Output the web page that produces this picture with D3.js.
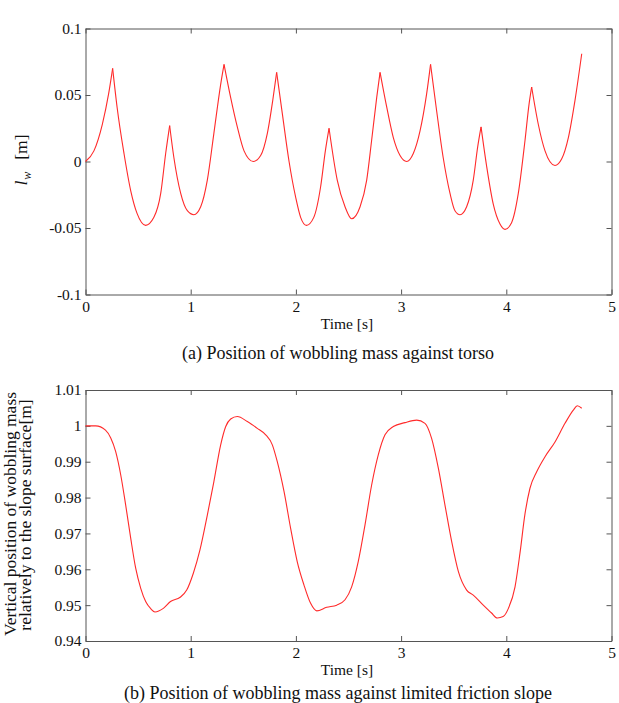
<!DOCTYPE html>
<html>
<head>
<meta charset="utf-8">
<script src="https://cdn.jsdelivr.net/npm/d3@7"></script>
<style>
  body { margin: 0; background: #fff; }
  svg { display: block; }
  .axis path, .axis line { stroke: #555; }
  .axis text { fill: #111; }
</style>
</head>
<body>
<script>
'use strict';

// (a) position of wobbling mass against torso
var topTime = [0, 0.08, 0.16, 0.22, 0.258, 0.30, 0.366, 0.43, 0.49, 0.572,
    0.65, 0.715, 0.762, 0.80, 0.84, 0.905, 0.968, 1.03, 1.095, 1.158,
    1.22, 1.285, 1.317, 1.38, 1.443, 1.507, 1.595, 1.665, 1.728, 1.78,
    1.817, 1.871, 1.935, 1.998, 2.045, 2.10, 2.17, 2.235, 2.28, 2.315,
    2.393, 2.467, 2.53, 2.61, 2.673, 2.72, 2.768, 2.80, 2.863, 2.926,
    2.99, 3.053, 3.116, 3.18, 3.243, 3.28, 3.338, 3.40, 3.465, 3.512,
    3.56, 3.623, 3.686, 3.728, 3.76, 3.814, 3.876, 3.94, 3.988, 4.05,
    4.114, 4.178, 4.216, 4.241, 4.304, 4.368, 4.463, 4.527, 4.59, 4.653,
    4.717];
var topPos = [0, 0.008, 0.028, 0.051, 0.070, 0.041, 0.006, -0.022, -0.039, -0.048,
    -0.042, -0.024, 0.006, 0.027, 0.003, -0.024, -0.037, -0.040, -0.034, -0.014,
    0.021, 0.058, 0.073, 0.048, 0.026, 0.008, 0.0, 0.0045, 0.021, 0.046,
    0.067, 0.036, 0.0, -0.027, -0.042, -0.048, -0.042, -0.019, 0.008, 0.025,
    -0.014, -0.034, -0.043, -0.034, -0.014, 0.016, 0.048, 0.067, 0.041, 0.018,
    0.0045, 0.0, 0.006, 0.023, 0.051, 0.073, 0.038, 0.003, -0.024, -0.037,
    -0.040, -0.034, -0.014, 0.011, 0.026, -0.004, -0.032, -0.047, -0.051, -0.046,
    -0.024, 0.016, 0.043, 0.056, 0.028, 0.008, -0.003, 0.002, 0.018, 0.046,
    0.081];

// (b) vertical position relative to the slope surface
var bottomTime = [0, 0.097, 0.19, 0.24, 0.287, 0.335, 0.382, 0.43, 0.477, 0.525,
    0.572, 0.62, 0.66, 0.74, 0.808, 0.90, 0.962, 1.025, 1.088, 1.158,
    1.22, 1.285, 1.333, 1.38, 1.443, 1.538, 1.633, 1.713, 1.776, 1.823,
    1.887, 1.95, 2.013, 2.077, 2.14, 2.198, 2.293, 2.388, 2.467, 2.53,
    2.593, 2.657, 2.72, 2.783, 2.847, 2.926, 3.037, 3.148, 3.227, 3.29,
    3.354, 3.417, 3.481, 3.544, 3.623, 3.686, 3.781, 3.86, 3.915, 3.97,
    4.02, 4.083, 4.13, 4.178, 4.225, 4.289, 4.368, 4.463, 4.558, 4.637,
    4.675, 4.717];
var bottomPos = [1.000, 1.000, 0.9988, 0.9966, 0.9928, 0.9863, 0.9779, 0.9686, 0.9603, 0.9547,
    0.9510, 0.9490, 0.9481, 0.9491, 0.9510, 0.9522, 0.9542, 0.9589, 0.9654, 0.9751,
    0.9844, 0.9947, 0.9998, 1.0019, 1.0026, 1.0012, 0.9993, 0.9975, 0.9947, 0.9900,
    0.9817, 0.9714, 0.9621, 0.9556, 0.9505, 0.9484, 0.9494, 0.9500, 0.9515, 0.9551,
    0.9622, 0.9724, 0.9835, 0.9919, 0.9975, 0.9998, 1.0009, 1.0016, 1.0007, 0.9965,
    0.9882, 0.9779, 0.9677, 0.9594, 0.9542, 0.9528, 0.9500, 0.9478, 0.9464, 0.9468,
    0.9491, 0.9551, 0.9645, 0.9755, 0.9826, 0.9872, 0.9914, 0.9955, 1.0007, 1.0044,
    1.0056, 1.0049];

var xTicks = [0, 1, 2, 3, 4, 5];
var topYTicks = [-0.1, -0.05, 0, 0.05, 0.1];
var topYLabels = ["-0.1", "-0.05", "0", "0.05", "0.1"];
var bottomYTicks = [0.94, 0.95, 0.96, 0.97, 0.98, 0.99, 1, 1.01];
var bottomYLabels = ["0.94", "0.95", "0.96", "0.97", "0.98", "0.99", "1", "1.01"];

var chart = {};
chart.width = 619;
chart.height = 703;
chart.left = 85.5;
chart.right = 611.5;
chart.font = "'Liberation Serif', 'Times New Roman', Times, serif";

chart.svg = d3.select("body").append("svg")
    .attr("width", chart.width)
    .attr("height", chart.height)
    .attr("font-family", chart.font);

chart.drawPanel = function(opt){
    var x = d3.scaleLinear().domain([0, 5]).range([chart.left, chart.right]);
    var y = d3.scaleLinear().domain(opt.yDomain).range([opt.bottom, opt.top]);
    var g = chart.svg.append("g");

    var axes = [];
    axes.push(g.append("g").attr("class", "axis")
        .attr("transform", "translate(0," + opt.bottom + ")")
        .call(d3.axisBottom(x).tickValues(xTicks).tickSizeInner(-5).tickSizeOuter(0).tickPadding(6)
            .tickFormat(d3.format("d"))));
    axes.push(g.append("g").attr("class", "axis")
        .attr("transform", "translate(0," + opt.top + ")")
        .call(d3.axisTop(x).tickValues(xTicks).tickSizeInner(-5).tickSizeOuter(0).tickFormat("")));
    axes.push(g.append("g").attr("class", "axis")
        .attr("transform", "translate(" + chart.left + ",0)")
        .call(d3.axisLeft(y).tickValues(opt.yTicks).tickSizeInner(-5).tickSizeOuter(0).tickPadding(4)
            .tickFormat(function(d, i){ return opt.yLabels[i]; })));
    axes.push(g.append("g").attr("class", "axis")
        .attr("transform", "translate(" + chart.right + ",0)")
        .call(d3.axisRight(y).tickValues(opt.yTicks).tickSizeInner(-5).tickSizeOuter(0).tickFormat("")));
    axes.forEach(function(a){
        a.attr("font-family", chart.font).attr("font-size", 15.5);
    });

    var pts = opt.time.map(function(t, i){ return [t, opt.pos[i]]; });
    var line = d3.line()
        .x(function(d){ return x(d[0]); })
        .y(function(d){ return y(d[1]); })
        .curve(d3.curveMonotoneX);

    // split at sharp peaks so the cusps stay pointed
    var pieces = [];
    var start = 0;
    if (opt.cusps) {
        for (var i = 1; i < pts.length - 1; i++) {
            if (pts[i][1] > pts[i - 1][1] && pts[i][1] > pts[i + 1][1]) {
                pieces.push(pts.slice(start, i + 1));
                start = i;
            }
        }
    }
    pieces.push(pts.slice(start));

    g.selectAll(".trace")
        .data(pieces)
        .enter()
            .append("path")
            .classed("trace", true)
            .attr("d", line)
            .attr("fill", "none")
            .attr("stroke", "#ff2a2a")
            .attr("stroke-width", 1.1);

    g.append("text")
        .attr("x", 347)
        .attr("y", opt.bottom + 34)
        .attr("text-anchor", "middle")
        .attr("font-size", 15.5)
        .attr("fill", "#111")
        .text("Time [s]");

    g.append("text")
        .attr("x", 338)
        .attr("y", opt.captionY)
        .attr("text-anchor", "middle")
        .attr("font-size", 18)
        .attr("fill", "#111")
        .text(opt.caption);

    return g;
}

chart.run = function(){
    var top = chart.drawPanel({
        top: 28.5, bottom: 294.5, yDomain: [-0.1, 0.1],
        yTicks: topYTicks, yLabels: topYLabels,
        time: topTime, pos: topPos, cusps: true,
        caption: "(a) Position of wobbling mass against torso", captionY: 359
    });
    var lab = top.append("text")
        .attr("transform", "translate(27,160) rotate(-90)")
        .attr("text-anchor", "middle")
        .attr("font-size", 17.5)
        .attr("fill", "#111");
    lab.append("tspan").attr("font-style", "italic").text("l");
    lab.append("tspan").attr("font-size", 12).attr("font-style", "italic").attr("dy", 4).attr("dx", 1).text("w");
    lab.append("tspan").attr("dy", -4).attr("dx", 12).text("[m]");

    var bottom = chart.drawPanel({
        top: 390, bottom: 641, yDomain: [0.94, 1.01],
        yTicks: bottomYTicks, yLabels: bottomYLabels,
        time: bottomTime, pos: bottomPos, cusps: false,
        caption: "(b) Position of wobbling mass against limited friction slope", captionY: 699
    });
    bottom.append("text")
        .attr("transform", "translate(16,514) rotate(-90)")
        .attr("text-anchor", "middle")
        .attr("font-size", 17.5)
        .attr("fill", "#111")
        .text("Vertical position of wobbling mass");
    bottom.append("text")
        .attr("transform", "translate(31,515) rotate(-90)")
        .attr("text-anchor", "middle")
        .attr("font-size", 17.5)
        .attr("fill", "#111")
        .text("relatively to the slope surface[m]");
}

chart.run();
</script>
</body>
</html>
